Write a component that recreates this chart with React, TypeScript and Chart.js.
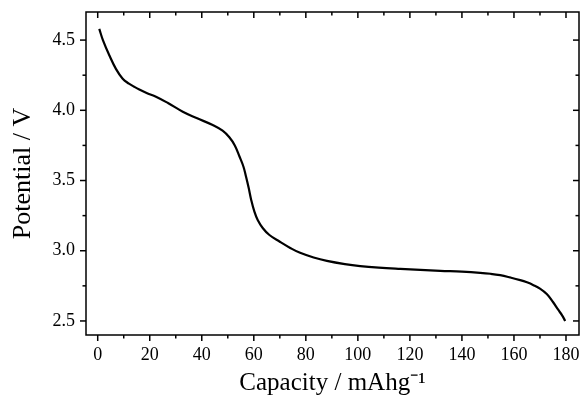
import React, { useEffect, useRef } from "react";
import { Chart, registerables } from "chart.js";

Chart.register(...registerables);

// Discharge curve: capacity (mAh/g) vs potential (V)
const capacity = [
  0.6, 2, 4.5, 7, 9.6, 12, 14, 16, 19, 22.4, 27, 32.7, 38, 44.2, 48, 50.6,
  52.7, 54.5, 56, 57, 58, 59, 60.2, 61.5, 63.5, 66, 70, 74, 77.8, 83, 88.1, 95,
  100.9, 108, 116.3, 124, 131.7, 140, 147, 151, 154.7, 158.5, 162.4, 165,
  167.5, 170, 172.7, 175, 177, 178.5, 179.7,
];
const potential = [
  4.58, 4.5, 4.39, 4.295, 4.225, 4.19, 4.168, 4.148, 4.122, 4.097, 4.052,
  3.99, 3.945, 3.895, 3.855, 3.808, 3.75, 3.671, 3.6, 3.529, 3.45, 3.362, 3.28,
  3.219, 3.16, 3.112, 3.064, 3.02, 2.985, 2.952, 2.928, 2.905, 2.891, 2.88,
  2.871, 2.864, 2.857, 2.851, 2.843, 2.836, 2.826, 2.81, 2.791, 2.775, 2.755,
  2.73, 2.69, 2.635, 2.58, 2.54, 2.5,
];

const xMajorTicks = [0, 20, 40, 60, 80, 100, 120, 140, 160, 180];
const xMinorTicks = [10, 30, 50, 70, 90, 110, 130, 150, 170];
const yMajorTicks = [2.5, 3.0, 3.5, 4.0, 4.5];
const yMinorTicks = [2.75, 3.25, 3.75, 4.25];

const xTitle = "Capacity / mAhg\u207B\u00B9";
const yTitle = "Potential / V";

const FONT = "'Liberation Serif', 'Times New Roman', serif";

const frameTicks = {
  id: "frameTicks",
  afterDatasetsDraw(chart: any) {
    const { ctx, chartArea, scales } = chart;
    const { left, right, top, bottom } = chartArea;
    const x = scales.x;
    const y = scales.y;
    ctx.save();
    ctx.strokeStyle = "#000";
    ctx.lineWidth = 1.5;
    ctx.strokeRect(left, top, right - left, bottom - top);
    const draw = (x1: number, y1: number, x2: number, y2: number) => {
      ctx.beginPath();
      ctx.moveTo(x1, y1);
      ctx.lineTo(x2, y2);
      ctx.stroke();
    };
    const maj = 6;
    const min = 3.5;
    xMajorTicks.forEach((v) => {
      const px = x.getPixelForValue(v);
      draw(px, bottom, px, bottom + maj);
      draw(px, top, px, top + maj);
    });
    xMinorTicks.forEach((v) => {
      const px = x.getPixelForValue(v);
      draw(px, bottom, px, bottom + min);
      draw(px, top, px, top + min);
    });
    yMajorTicks.forEach((v) => {
      const py = y.getPixelForValue(v);
      draw(left, py, left - maj, py);
      draw(right, py, right - maj, py);
    });
    yMinorTicks.forEach((v) => {
      const py = y.getPixelForValue(v);
      draw(left, py, left - min, py);
      draw(right, py, right - min, py);
    });
    ctx.restore();
  },
};

const zeroPad = (s: any) => {
  s.paddingTop = 0;
  s.paddingBottom = 0;
  s.paddingLeft = 0;
  s.paddingRight = 0;
};

export default function App() {
  const ref = useRef<HTMLCanvasElement>(null);
  useEffect(() => {
    document.body.style.margin = "0";
    const canvas = ref.current;
    if (!canvas) return;
    const chart = new Chart(canvas, {
      type: "line",
      data: {
        datasets: [
          {
            data: capacity.map((c, i) => ({ x: c, y: potential[i] })),
            borderColor: "#000",
            borderWidth: 2.2,
            pointRadius: 0,
            fill: false,
            tension: 0.4,
          },
        ],
      },
      options: {
        responsive: false,
        animation: false,
        devicePixelRatio: 1,
        layout: { padding: { top: 12, right: 3, left: 0, bottom: 0 } },
        plugins: { legend: { display: false }, tooltip: { enabled: false } },
        scales: {
          x: {
            type: "linear",
            position: "bottom",
            min: -4.5,
            max: 185,
            afterBuildTicks: (s: any) => {
              s.ticks = xMajorTicks.map((v) => ({ value: v }));
            },
            afterFit: (s: any) => {
              s.height = 62;
              zeroPad(s);
            },
            grid: { display: false, drawTicks: false },
            border: { display: false },
            ticks: {
              color: "#000",
              font: { family: FONT, size: 18 },
              padding: 9,
              maxRotation: 0,
              autoSkip: false,
              callback: (v: any) => String(v),
            },
            title: {
              display: true,
              text: xTitle,
              color: "#000",
              font: { family: FONT, size: 25, lineHeight: 1.0 },
              padding: { top: 0, bottom: 1 },
            },
          },
          y: {
            type: "linear",
            min: 2.4,
            max: 4.7,
            afterBuildTicks: (s: any) => {
              s.ticks = yMajorTicks.map((v) => ({ value: v }));
            },
            afterFit: (s: any) => {
              s.width = 86;
              zeroPad(s);
            },
            grid: { display: false, drawTicks: false },
            border: { display: false },
            ticks: {
              color: "#000",
              font: { family: FONT, size: 18 },
              padding: 11,
              autoSkip: false,
              callback: (v: any) => Number(v).toFixed(1),
            },
            title: {
              display: true,
              text: yTitle,
              color: "#000",
              font: { family: FONT, size: 26, lineHeight: 1.0 },
              padding: { top: 10, bottom: 0 },
            },
          },
        },
      },
      plugins: [frameTicks],
    } as any);
    return () => chart.destroy();
  }, []);
  return (
    <div style={{ width: 582, height: 397, background: "#fff" }}>
      <canvas ref={ref} width={582} height={397} />
    </div>
  );
}
